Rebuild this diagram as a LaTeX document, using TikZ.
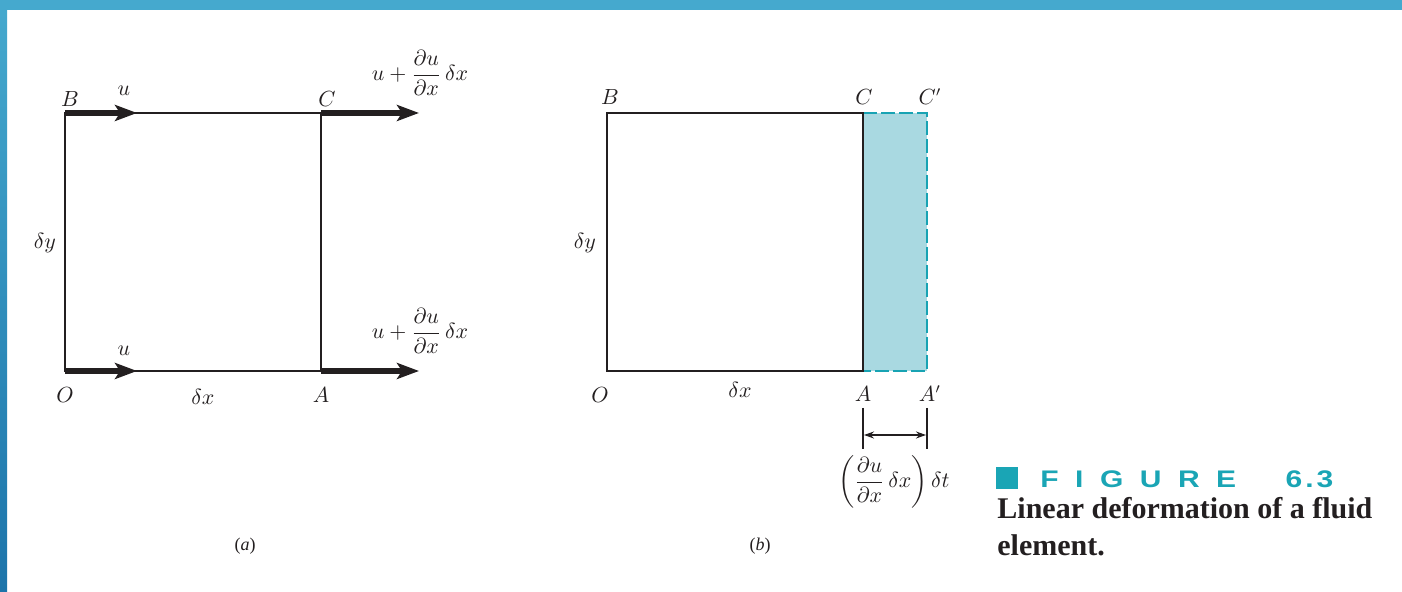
\documentclass[tikz,border=0pt]{standalone}
\usepackage{amsmath}
\usepackage{fontspec}
\setmainfont{Liberation Serif}
\newfontfamily\figsans[FakeStretch=1.25]{Liberation Sans}
\usetikzlibrary{arrows.meta}
\definecolor{bandtop}{HTML}{45A9CE}
\definecolor{bandleft}{HTML}{1C74AA}
\definecolor{fillblue}{HTML}{A9D9E1}
\definecolor{dashcyan}{HTML}{18A3B3}
\definecolor{figcyan}{HTML}{1AA5B5}
\definecolor{inkc}{HTML}{231F20}
\tikzset{
  edge/.style={draw=inkc, line width=1pt},
  vel/.style={draw=inkc, line width=2.6pt, -{Stealth[length=11pt,width=8pt,inset=2.5pt]}},
  lbl/.style={inner sep=0pt, font=\fontsize{10.5}{12}\selectfont, text=inkc},
  dimarrow/.style={draw=inkc, line width=0.6pt, {Stealth[length=5pt,width=3.5pt]}-{Stealth[length=5pt,width=3.5pt]}},
  extline/.style={draw=inkc, line width=0.8pt},
}
\begin{document}
\begin{tikzpicture}[x=0.5pt,y=-0.5pt]
\useasboundingbox (0,0) rectangle (1402,592);
\fill[white] (0,0) rectangle (1402,592);
\shade[top color=bandtop, bottom color=bandleft] (0,0) rectangle (7,592);
\fill[bandtop] (0,0) rectangle (1402,10);

% ---------- (a)
\coordinate (aB) at (65,113);
\coordinate (aC) at (321,113);
\coordinate (aO) at (65,371);
\coordinate (aA) at (321,371);
\coordinate (aBu) at (137,113);
\coordinate (aCu) at (419,113);
\coordinate (aOu) at (137,371);
\coordinate (aAu) at (419,371);
\draw[edge] (aO) rectangle (aC);
\draw[vel] (aB) -- (aBu);
\draw[vel] (aC) -- (aCu);
\draw[vel] (aO) -- (aOu);
\draw[vel] (aA) -- (aAu);
\node[lbl] (laB) at (70,99) {$B$};
\node[lbl] (laC) at (327,99) {$C$};
\node[lbl] (laO) at (65,395) {$O$};
\node[lbl] (laA) at (321,395) {$A$};
\node[lbl] (laU1) at (124,91) {$u$};
\node[lbl] (laU2) at (124,351) {$u$};
\node[lbl] (ladx) at (203,397) {$\delta x$};
\node[lbl] (lady) at (45,243) {$\delta y$};
\node[lbl] (laF1) at (420,73) {$u+\dfrac{\partial u}{\partial x}\,\delta x$};
\node[lbl] (laF2) at (420,331) {$u+\dfrac{\partial u}{\partial x}\,\delta x$};
\node[lbl, font=\fontsize{9}{11}\selectfont] (capa) at (245,546) {(\textit{a})};

% ---------- (b)
\coordinate (bB) at (607,113);
\coordinate (bC) at (863,113);
\coordinate (bO) at (607,371);
\coordinate (bA) at (863,371);
\coordinate (bCp) at (927,113);
\coordinate (bAp) at (927,371);
\fill[fillblue] (bA) rectangle (bCp);
\draw[dashcyan, line width=1pt, dash pattern=on 7pt off 2pt] (bC) -- (bCp) -- (bAp) -- (bA);
\draw[edge] (bO) rectangle (bC);
\node[lbl] (lbB) at (610,97) {$B$};
\node[lbl] (lbC) at (864,97) {$C$};
\node[lbl] (lbCp) at (930,97) {$C'$};
\node[lbl] (lbO) at (600,395) {$O$};
\node[lbl] (lbA) at (863,394) {$A$};
\node[lbl] (lbAp) at (930,394) {$A'$};
\node[lbl] (lbdx) at (740,390) {$\delta x$};
\node[lbl] (lbdy) at (585,243) {$\delta y$};
\coordinate (e1t) at (863,408);
\coordinate (e1b) at (863,449);
\coordinate (e2t) at (927,408);
\coordinate (e2b) at (927,449);
\coordinate (d1) at (864,435);
\coordinate (d2) at (926,435);
\draw[extline] (e1t) -- (e1b);
\draw[extline] (e2t) -- (e2b);
\draw[dimarrow] (d1) -- (d2);
\node[lbl] (lbF) at (894,482) {$\left(\dfrac{\partial u}{\partial x}\,\delta x\right)\delta t$};
\node[lbl, font=\fontsize{9}{11}\selectfont] (capb) at (760,546) {(\textit{b})};

% ---------- caption
\fill[figcyan] (996,467) rectangle (1018,489);
\node[anchor=base west, inner sep=0pt, text=figcyan, font=\figsans\bfseries\fontsize{12}{14}\selectfont] (figt) at (1040,488)
  {\makebox[146.5pt][s]{F\hfill I\hfill G\hfill U\hfill R\hfill E\hfill\hfill\hfill 6\hspace{1.5pt}.\hspace{1.5pt}3}};
\node[anchor=base west, inner sep=0pt, text=inkc, font=\bfseries\fontsize{15}{18.5}\selectfont] (figc1) at (997,518)
  {Linear deformation of a fluid};
\node[anchor=base west, inner sep=0pt, text=inkc, font=\bfseries\fontsize{15}{18.5}\selectfont] (figc2) at (997,555)
  {element.};
\end{tikzpicture}
\end{document}
